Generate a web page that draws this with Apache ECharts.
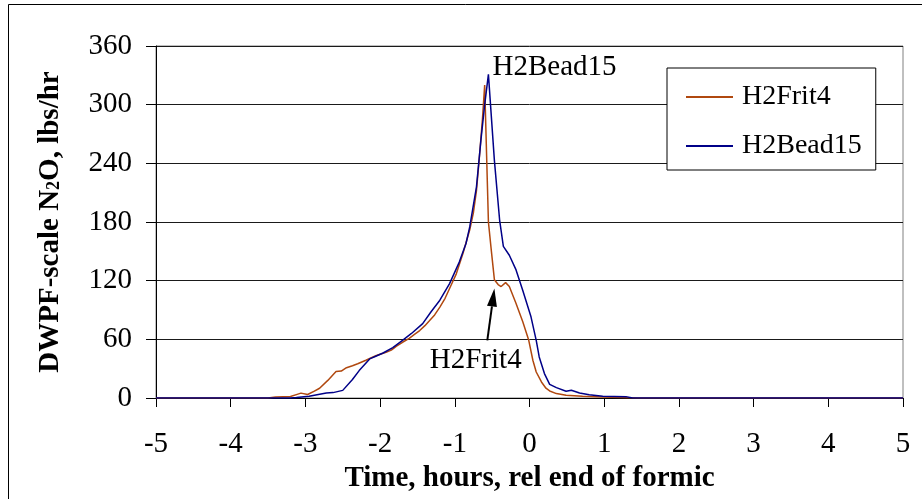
<!DOCTYPE html>
<html>
<head>
<meta charset="utf-8">
<script src="https://cdn.jsdelivr.net/npm/echarts@6/dist/echarts.min.js"></script>
<style>
html,body{margin:0;padding:0;background:#fff;}
#chart{width:922px;height:499px;}
</style>
</head>
<body>
<div id="chart"></div>
<script>
// ---- data (hours relative to end of formic, lbs/hr) ----
var seriesNames = ['H2Frit4', 'H2Bead15'];
var frit4Time = [-5, -3.5, -3.4, -3.2, -3.1, -3.06, -2.97, -2.88, -2.81, -2.70, -2.59, -2.52, -2.45, -2.37, -2.30, -2.19, -2.05, -1.92, -1.85, -1.78, -1.70, -1.61, -1.54, -1.47, -1.40, -1.34, -1.27, -1.20, -1.13, -1.07, -0.98, -0.89, -0.80, -0.75, -0.71, -0.67, -0.63, -0.60, -0.55, -0.51, -0.47, -0.42, -0.38, -0.32, -0.27, -0.18, -0.09, -0.01, 0.045, 0.09, 0.16, 0.22, 0.27, 0.36, 0.49, 0.71, 0.98, 1.34, 1.45, 5];
var frit4Values = [0, 0, 1, 1.5, 4, 5, 3.6, 7, 10, 18, 27, 27.5, 31, 33, 35, 38.6, 43.5, 46.7, 49, 53, 57, 61, 65, 69, 74, 79, 85, 93, 102, 112, 127, 148, 172, 190, 212, 247, 285, 320, 180, 150, 121, 116, 114, 118, 114, 96.6, 78, 59, 38.6, 26.6, 16.4, 10, 7.2, 4.5, 2.8, 1.7, 1.0, 0.3, 0, 0];
var bead15Time = [-5, -3.2, -3.12, -2.95, -2.72, -2.63, -2.50, -2.37, -2.28, -2.14, -2.05, -1.96, -1.83, -1.70, -1.58, -1.43, -1.32, -1.20, -1.07, -0.94, -0.85, -0.80, -0.71, -0.65, -0.60, -0.55, -0.47, -0.40, -0.35, -0.27, -0.18, -0.09, 0.02, 0.09, 0.13, 0.20, 0.27, 0.36, 0.49, 0.56, 0.67, 0.80, 0.98, 1.29, 1.38, 5];
var bead15Values = [0, 0, 0.5, 1.7, 5, 5.5, 7.8, 19, 28, 40, 43, 46, 51.5, 59, 66, 76, 88, 100, 117, 139, 158, 175, 216, 264, 300, 331, 243, 182, 155, 146, 131, 110, 83, 59, 42, 25, 14, 10.6, 6.9, 7.9, 5.1, 3.4, 1.7, 1.4, 0, 0];
var xTicks = {min: -5, max: 5, step: 1};
var yTicks = {min: 0, max: 360, step: 60};
var xTitle = 'Time, hours, rel end of formic';
// annotation anchors in data units
var beadNote = {text: 'H2Bead15', at: [-0.495, 338.5]};
var fritNote = {text: 'H2Frit4', at: [-0.72, 38.6], arrowFrom: [-0.565, 59], arrowTo: [-0.47, 112]};

function pairs(t, v) { return t.map(function (x, i) { return [x, v[i]]; }); }

var FONT = '"Liberation Serif", "Times New Roman", serif';
var chart = echarts.init(document.getElementById('chart'));
var option = {
  animation: false,
  backgroundColor: '#fff',
  grid: {left: 156, right: 19, top: 46, bottom: 101, show: true, borderColor: '#808080', borderWidth: 1},
  legend: {
    orient: 'vertical', left: 667, top: 68,
    width: 212,
    backgroundColor: '#fff', borderColor: '#000', borderWidth: 1,
    padding: [14, 14, 9, 19],
    itemGap: 19, itemWidth: 47, itemHeight: 2, icon: 'rect',
    textStyle: {fontFamily: FONT, fontSize: 28, color: '#000', lineHeight: 30, padding: [0, 0, 0, 4]},
    data: seriesNames
  },
  xAxis: {
    type: 'value', min: xTicks.min, max: xTicks.max, interval: xTicks.step,
    name: xTitle, nameLocation: 'middle', nameGap: 66,
    nameTextStyle: {fontFamily: FONT, fontSize: 29, fontWeight: 'bold', color: '#000'},
    axisLine: {show: true, onZero: false, lineStyle: {color: '#000', width: 1}},
    axisTick: {show: true, inside: false, length: 9, lineStyle: {color: '#000'}},
    axisLabel: {fontFamily: FONT, fontSize: 29, color: '#000', margin: 32},
    splitLine: {show: false}
  },
  yAxis: {
    type: 'value', min: yTicks.min, max: yTicks.max, interval: yTicks.step,
    name: '{a|DWPF-scale N}{s|2}{a|O, lbs/hr}', nameLocation: 'middle', nameGap: 91,
    nameTextStyle: {
      rich: {
        a: {fontFamily: FONT, fontSize: 29, fontWeight: 'bold', color: '#000'},
        s: {fontFamily: FONT, fontSize: 18, fontWeight: 'bold', color: '#000', padding: [8, 0, 0, 0]}
      }
    },
    axisLine: {show: true, onZero: false, lineStyle: {color: '#000', width: 1}},
    axisTick: {show: true, inside: false, length: 10, lineStyle: {color: '#000'}},
    axisLabel: {fontFamily: FONT, fontSize: 29, color: '#000', margin: 24},
    splitLine: {show: true, lineStyle: {color: '#1a1a1a', width: 1}}
  },
  series: [
    {name: seriesNames[0], type: 'line', data: pairs(frit4Time, frit4Values), symbol: 'none',
      lineStyle: {color: '#B0480F', width: 1.5}, itemStyle: {color: '#B0480F'}, z: 3},
    {name: seriesNames[1], type: 'line', data: pairs(bead15Time, bead15Values), symbol: 'none',
      lineStyle: {color: '#000088', width: 1.5}, itemStyle: {color: '#000088'}, z: 4}
  ]
};
chart.setOption(option);

function px(p) { return chart.convertToPixel({gridIndex: 0}, p); }
var b = px(beadNote.at), f = px(fritNote.at), a0 = px(fritNote.arrowFrom), a1 = px(fritNote.arrowTo);
var dx = a1[0] - a0[0], dy = a1[1] - a0[1], L = Math.sqrt(dx * dx + dy * dy);
var ux = dx / L, uy = dy / L, head = 18, hw = 5;
var base = [a1[0] - ux * head, a1[1] - uy * head];
chart.setOption({
  graphic: [
    {type: 'rect', shape: {x: 8.5, y: 4.5, width: 940, height: 520}, style: {fill: 'none', stroke: '#000', lineWidth: 1}, silent: true, z: -10},
    {type: 'text', x: b[0], y: b[1], style: {text: beadNote.text, font: '29px ' + FONT, fill: '#000', textAlign: 'left', textVerticalAlign: 'middle'}, z: 10},
    {type: 'text', x: f[0], y: f[1], style: {text: fritNote.text, font: '29px ' + FONT, fill: '#000', textAlign: 'center', textVerticalAlign: 'middle'}, z: 10},
    {type: 'line', shape: {x1: a0[0], y1: a0[1], x2: base[0], y2: base[1]}, style: {stroke: '#000', lineWidth: 2}, z: 10},
    {type: 'polygon', shape: {points: [a1, [base[0] - uy * hw, base[1] + ux * hw], [base[0] + uy * hw, base[1] - ux * hw]]}, style: {fill: '#000'}, z: 10}
  ]
});
</script>
</body>
</html>
